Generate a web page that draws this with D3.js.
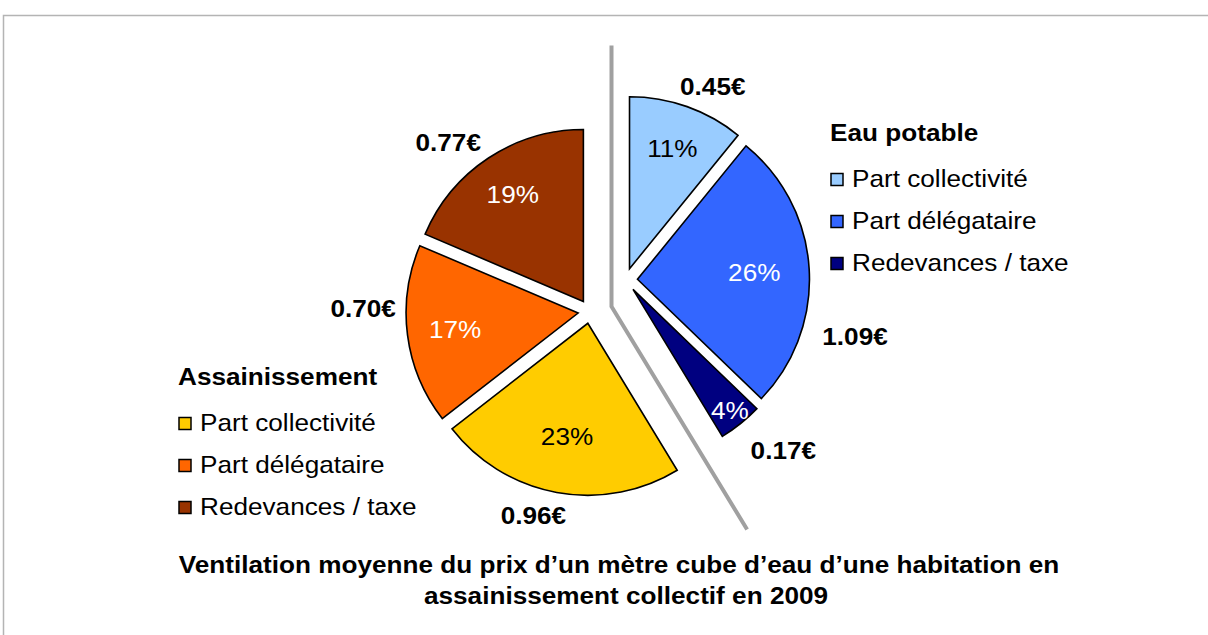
<!DOCTYPE html>
<html><head><meta charset="utf-8">
<script src="https://cdn.jsdelivr.net/npm/d3@7"></script>
<style>html,body{margin:0;padding:0;background:#fff;}svg{display:block;}</style>
</head><body>
<svg id="chart" width="1208" height="635"></svg>
<script>
// ---- data ----
const groups = ["Eau potable", "Assainissement"];
const categories = ["Part collectivité", "Part délégataire", "Redevances / taxe"];
const eauValues = [0.45, 1.09, 0.17];
const assValues = [0.96, 0.70, 0.77];
const eauColors = ["#99CCFF", "#3366FF", "#000080"];
const assColors = ["#FFCC00", "#FF6600", "#993300"];
const pctTextColors = ["#000", "#fff", "#fff", "#000", "#fff", "#fff"];
const titleLines = ["Ventilation moyenne du prix d\u2019un mètre cube d\u2019eau d\u2019une habitation en",
                    "assainissement collectif en 2009"];

// ---- layout ----
const W = 1208, H = 635;
const C = [611.5, 306.5];         // pie centre
const R = 172;                    // radius
const explode = 12;
const groupShift = [[14, -26.5], [-21.5, 5]];  // shift of each group's centre
const pctLabelR = [128, 117, 155, 115, 124, 128];
const valLabelPolar = [[24.6, 200], [104.8, 225], [136.9, 220], [195.8, 200], [271.3, 215], [319.7, 209]];
const sepLen = 261;
const FS = 24, SX = 1.09;

const svg = d3.select("#chart");
svg.append("rect").attr("x", 3.5).attr("y", 15.5).attr("width", W + 20).attr("height", H + 20)
  .attr("fill", "#fff").attr("stroke", "#b4b4b4").attr("stroke-width", 1.5);

const slices = [];
eauValues.forEach((v, i) => slices.push({group: 0, cat: i, value: v, color: eauColors[i]}));
assValues.forEach((v, i) => slices.push({group: 1, cat: i, value: v, color: assColors[i]}));
const total = d3.sum(slices, d => d.value);

const pie = d3.pie().sort(null).value(d => d.value);
const arcs = pie(slices);
const arc = d3.arc().innerRadius(0).outerRadius(R);
const toRad = a => a * Math.PI / 180;
const polar = (p, a, r) => [p[0] + r * Math.sin(a), p[1] - r * Math.cos(a)];

function apexOf(d) {
  const g = groupShift[d.data.group];
  const base = [C[0] + g[0], C[1] + g[1]];
  const mid = (d.startAngle + d.endAngle) / 2;
  return polar(base, mid, explode);
}

function addText(parent, x, y, txt, opts) {
  const t = parent.append("text")
    .attr("transform", `translate(${x},${y}) scale(${SX},1)`)
    .attr("x", 0).attr("y", 0)
    .attr("font-family", "Liberation Sans, Arial, sans-serif")
    .attr("font-size", (opts.size || FS) + "px")
    .attr("font-weight", opts.bold ? "bold" : "normal")
    .attr("text-anchor", opts.anchor || "start")
    .attr("fill", opts.fill || "#000")
    .text(txt);
  if (opts.dy) t.attr("dy", opts.dy);
  return t;
}

// separator line
const boundary = arcs[eauValues.length - 1].endAngle;
const p0 = polar(C, 0, sepLen), p1 = polar(C, boundary, sepLen);
svg.append("path").attr("d", `M${p0[0]},${p0[1]}L${C[0]},${C[1]}L${p1[0]},${p1[1]}`)
  .attr("fill", "none").attr("stroke", "#a0a0a0").attr("stroke-width", 4);

// slices
const gSlices = svg.append("g");
arcs.forEach(d => {
  const a = apexOf(d);
  gSlices.append("path").attr("transform", `translate(${a[0]},${a[1]})`)
    .attr("d", arc(d)).attr("fill", d.data.color)
    .attr("stroke", "#000").attr("stroke-width", 1.6).attr("stroke-linejoin", "miter");
});

// percent labels
arcs.forEach((d, i) => {
  const a = apexOf(d);
  const mid = (d.startAngle + d.endAngle) / 2;
  const p = polar(a, mid, pctLabelR[i]);
  addText(svg, p[0], p[1], Math.round(d.data.value / total * 100) + "%",
    {anchor: "middle", fill: pctTextColors[i], dy: "0.36em"});
});

// value labels
arcs.forEach((d, i) => {
  const a = apexOf(d);
  const p = polar(a, toRad(valLabelPolar[i][0]), valLabelPolar[i][1]);
  addText(svg, p[0], p[1], d.data.value.toFixed(2) + "\u20AC",
    {anchor: "middle", bold: true, dy: "0.36em"});
});

// legends
const legendPos = [[830, 141], [178, 385]];
const legendColors = [eauColors, assColors];
groups.forEach((g, gi) => {
  const [lx, ly] = legendPos[gi];
  addText(svg, lx, ly, g, {bold: true});
  categories.forEach((c, ci) => {
    const by = ly + 46 + ci * 42;
    svg.append("rect").attr("x", lx + 1).attr("y", by - 13.5).attr("width", 12).attr("height", 12)
      .attr("fill", legendColors[gi][ci]).attr("stroke", "#000").attr("stroke-width", 1.5);
    addText(svg, lx + 22, by, c, {});
  });
});

// title
addText(svg, 619, 573, titleLines[0], {anchor: "middle", bold: true});
addText(svg, 626, 604, titleLines[1], {anchor: "middle", bold: true});
</script>
</body></html>
